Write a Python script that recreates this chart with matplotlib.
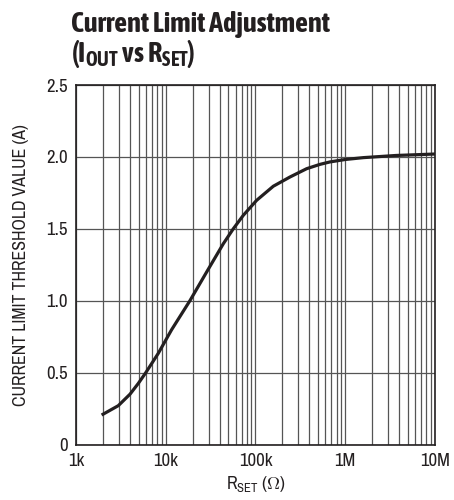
import matplotlib
matplotlib.use("Agg")
import matplotlib.pyplot as plt
from matplotlib import font_manager as fm
from matplotlib.ticker import FixedLocator, NullFormatter

# ── data ──────────────────────────────────────────────────────────────────────
rset_ohm = [1.93e3, 2.96e3, 4.0e3, 4.95e3, 6.0e3, 8.26e3, 11.6e3, 18.6e3,
            28.6e3, 43.8e3, 56.6e3, 73e3, 103e3, 158e3, 242e3, 372e3, 523e3,
            676e3, 1.0e6, 1.6e6, 3.7e6, 10e6]
i_limit = [0.205, 0.27, 0.35, 0.425, 0.50, 0.634, 0.797, 1.00,
           1.20, 1.396, 1.50, 1.593, 1.698, 1.796, 1.86, 1.918, 1.948,
           1.965, 1.982, 1.995, 2.01, 2.02]

x_ticks = [1e3, 1e4, 1e5, 1e6, 1e7]
x_labels = ["1k", "10k", "100k", "1M", "10M"]
y_ticks = [0, 0.5, 1.0, 1.5, 2.0, 2.5]
y_labels = ["0", "0.5", "1.0", "1.5", "2.0", "2.5"]

# narrow face for the body text, and one with a bold cut for the title
faces = fm.fontManager.ttflist
narrow = sorted({f.name for f in faces if "Narrow" in f.name or "Condensed" in f.name})
narrow_bold = sorted({f.name for f in faces
                      if f.name in narrow and (f.weight in ("bold", 700) or
                                               (isinstance(f.weight, int) and f.weight >= 700))})
BODY = narrow[0] if narrow else "DejaVu Sans"
TITLE = narrow_bold[0] if narrow_bold else BODY
plt.rcParams["font.family"] = [BODY, "DejaVu Sans"]
plt.rcParams["mathtext.fontset"] = "custom"
plt.rcParams["mathtext.rm"] = BODY
plt.rcParams["mathtext.bf"] = TITLE + ":bold"

INK = "#231f20"
GRID = "#555555"

fig = plt.figure(figsize=(4.54, 5.0), dpi=100)
ax = fig.add_axes([0.1674, 0.111, 0.7906, 0.719])

ax.plot(rset_ohm, i_limit, color=INK, linewidth=2.3, solid_capstyle="butt")

ax.set_xscale("log")
ax.set_xlim(1e3, 1e7)
ax.set_ylim(0, 2.5)

minor = [m * 10 ** d for d in range(3, 7) for m in range(2, 10)]
ax.xaxis.set_major_locator(FixedLocator(x_ticks))
ax.xaxis.set_minor_locator(FixedLocator(minor))
ax.xaxis.set_minor_formatter(NullFormatter())
ax.set_xticks(x_ticks, x_labels)
ax.set_yticks(y_ticks, y_labels)

ax.grid(True, which="both", axis="x", color=GRID, linewidth=0.9)
ax.grid(True, which="major", axis="y", color=GRID, linewidth=0.9)
ax.tick_params(which="both", length=0, labelsize=13.5, colors=INK, pad=6)
for s in ax.spines.values():
    s.set_color(INK)
    s.set_linewidth(1.2)

ax.set_ylabel("CURRENT LIMIT THRESHOLD VALUE (A)", fontsize=12.8, color=INK, labelpad=12)
ax.set_xlabel(r"R$_\mathregular{SET}$ ($\Omega$)", fontsize=13, color=INK, labelpad=4)

fig.text(0.157, 0.935, "Current Limit Adjustment", fontsize=20.3, fontweight="bold",
         family=[TITLE, "DejaVu Sans"], color=INK, ha="left", va="baseline")
fig.text(0.157, 0.876, r"(I$_\mathbf{OUT}$ vs R$_\mathbf{SET}$)", fontsize=20.3,
         fontweight="bold", family=[TITLE, "DejaVu Sans"], color=INK,
         ha="left", va="baseline")

fig.savefig("out.png", dpi=100)
